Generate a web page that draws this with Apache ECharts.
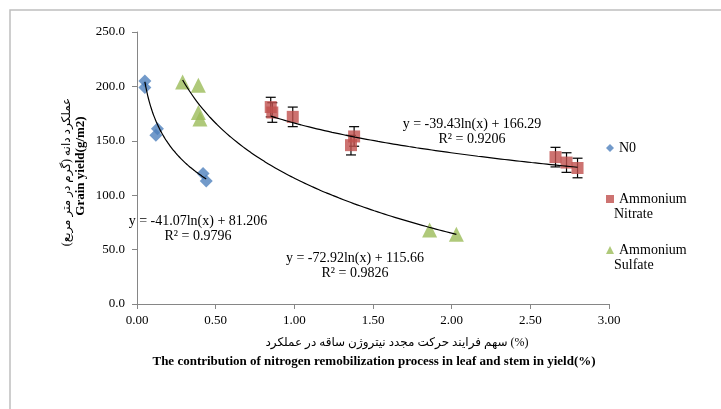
<!DOCTYPE html>
<html>
<head>
<meta charset="utf-8">
<script src="https://cdn.jsdelivr.net/npm/echarts@6/dist/echarts.min.js"></script>
<style>
  html, body { margin: 0; padding: 0; background: #fff; }
  #chart { width: 721px; height: 409px; }
</style>
</head>
<body>
<div id="chart"></div>
<script>
// values
const n0X = [0.05, 0.05, 0.13, 0.12, 0.42, 0.44];
const n0Y = [205, 199, 161, 155, 120, 113];
const nitrateX = [0.85, 0.86, 0.99, 1.38, 1.36, 2.66, 2.73, 2.80];
const nitrateY = [181, 176, 172, 154, 146, 135, 130, 125];
const nitrateErr = [9, 9, 9, 9, 9, 9, 9, 9];
const sulfateX = [0.29, 0.39, 0.39, 0.40, 1.86, 2.03];
const sulfateY = [204, 201, 176, 170, 68, 64];

// excel log trendlines as printed on the chart: y = a*ln(x) + b
const trendA = [-41.07, -39.431, -72.92];
const trendB = [81.206, 166.29, 115.66];
const trendText = [
  ['y = -41.07ln(x) + 81.206', 'R² = 0.9796'],
  ['y = -39.43ln(x) + 166.29', 'R² = 0.9206'],
  ['y = -72.92ln(x) + 115.66', 'R² = 0.9826']
];

const seriesNames = ['N0', 'Ammonium\nNitrate', 'Ammonium\nSulfate'];
const xTicks = ['0.00', '0.50', '1.00', '1.50', '2.00', '2.50', '3.00'];
const yTicks = ['0.0', '50.0', '100.0', '150.0', '200.0', '250.0'];

const serif = '"Liberation Serif", "DejaVu Serif", "DejaVu Sans", serif';

function pairs(xs, ys) {
  let out = [];
  for (let i = 0; i < xs.length; i++) out.push([xs[i], ys[i]]);
  return out;
}

function trendLine(k, xs) {   // curve only over the data range, like excel
  let lo = Math.min(...xs), hi = Math.max(...xs);
  let pts = [];
  for (let i = 0; i <= 40; i++) {
    let x = lo + (hi - lo) * i / 40;
    pts.push([x, trendA[k] * Math.log(x) + trendB[k]]);
  }
  return pts;
}

const chart = echarts.init(document.getElementById('chart'));

function eqText(lines, cx, cy) {
  return lines.map((t, i) => ({
    type: 'text', x: cx, y: cy + i * 15, z: 50,
    style: { text: t, font: '14px ' + serif, fill: '#000', align: 'center', verticalAlign: 'middle' }
  }));
}

function legendSecondLine(name, y) {
  return {
    type: 'text', x: 614, y: y,
    style: { text: name.split('\n')[1], font: '14px ' + serif, fill: '#000', align: 'left', verticalAlign: 'middle' }
  };
}

const lineStyleTrend = { color: '#000', width: 1.2 };

chart.setOption({
  animation: false,
  grid: { left: 137, right: 112, top: 32, bottom: 105 },
  legend: {
    orient: 'vertical',
    left: 601,
    top: 135,
    itemWidth: 8,
    itemHeight: 8,
    itemGap: 35,
    textStyle: { fontFamily: serif, fontSize: 14, color: '#000', lineHeight: 16 },
    formatter: name => name.split('\n')[0],
    data: [
      { name: seriesNames[0], icon: 'diamond' },
      { name: seriesNames[1], icon: 'rect' },
      { name: seriesNames[2], icon: 'triangle' }
    ]
  },
  xAxis: {
    type: 'value', min: 0, max: 3, interval: 0.5,
    axisLine: { lineStyle: { color: '#868686' } },
    axisTick: { show: true, length: 5, lineStyle: { color: '#868686' } },
    splitLine: { show: false },
    axisLabel: {
      fontFamily: serif, fontSize: 13, color: '#000', margin: 10,
      formatter: v => xTicks[Math.round(v / 0.5)]
    }
  },
  yAxis: {
    type: 'value', min: 0, max: 250, interval: 50,
    axisLine: { show: true, lineStyle: { color: '#868686' } },
    axisTick: { show: true, length: 5, lineStyle: { color: '#868686' } },
    splitLine: { show: false },
    axisLabel: {
      fontFamily: serif, fontSize: 13, color: '#000', margin: 12,
      formatter: v => yTicks[Math.round(v / 50)]
    }
  },
  series: [
    {
      name: seriesNames[0], type: 'scatter', symbol: 'diamond', symbolSize: 13,
      itemStyle: { color: '#4F81BD' }, data: pairs(n0X, n0Y), z: 3
    },
    {
      name: seriesNames[1], type: 'scatter', symbol: 'rect', symbolSize: 12,
      itemStyle: { color: '#C0504D' }, data: pairs(nitrateX, nitrateY), z: 3
    },
    {
      name: seriesNames[2], type: 'scatter', symbol: 'triangle', symbolSize: 15,
      itemStyle: { color: '#9BBB59' }, data: pairs(sulfateX, sulfateY), z: 3
    },
    {
      // error bars of the nitrate points
      type: 'custom', z: 2,
      data: nitrateX.map((x, i) => [x, nitrateY[i] - nitrateErr[i], nitrateY[i] + nitrateErr[i]]),
      renderItem: function (params, api) {
        let lo = api.coord([api.value(0), api.value(1)]);
        let hi = api.coord([api.value(0), api.value(2)]);
        let w = 5;
        let st = { stroke: '#000', lineWidth: 1.2 };
        return {
          type: 'group',
          children: [
            { type: 'line', shape: { x1: lo[0], y1: lo[1], x2: hi[0], y2: hi[1] }, style: st },
            { type: 'line', shape: { x1: lo[0] - w, y1: lo[1], x2: lo[0] + w, y2: lo[1] }, style: st },
            { type: 'line', shape: { x1: hi[0] - w, y1: hi[1], x2: hi[0] + w, y2: hi[1] }, style: st }
          ]
        };
      }
    },
    { type: 'line', showSymbol: false, smooth: true, z: 5, lineStyle: lineStyleTrend, data: trendLine(0, n0X) },
    { type: 'line', showSymbol: false, smooth: true, z: 5, lineStyle: lineStyleTrend, data: trendLine(1, nitrateX) },
    { type: 'line', showSymbol: false, smooth: true, z: 5, lineStyle: lineStyleTrend, data: trendLine(2, sulfateX) }
  ],
  graphic: [
    {
      type: 'rect', z: 0, silent: true,
      shape: { x: 10, y: 10, width: 760, height: 460 },
      style: { fill: 'none', stroke: '#bfbfbf', lineWidth: 1.5 }
    },
    legendSecondLine(seriesNames[1], 214),
    legendSecondLine(seriesNames[2], 265),
    {
      type: 'text', x: 67, y: 172, rotation: Math.PI / 2,
      style: { text: 'عملکرد دانه (گرم در متر مربع)', font: '12px ' + serif, fill: '#000', align: 'center', verticalAlign: 'middle' }
    },
    {
      type: 'text', x: 81, y: 166, rotation: Math.PI / 2,
      style: { text: 'Grain yield(g/m2)', font: 'bold 13px ' + serif, fill: '#000', align: 'center', verticalAlign: 'middle' }
    },
    {
      type: 'text', x: 397, y: 343,
      style: { text: 'سهم فرایند حرکت مجدد نیتروژن ساقه در عملکرد (%)', font: '12px ' + serif, fill: '#000', align: 'center', verticalAlign: 'middle' }
    },
    {
      type: 'text', x: 374, y: 362,
      style: { text: 'The contribution of nitrogen remobilization process in leaf and stem in yield(%)', font: 'bold 13px ' + serif, fill: '#000', align: 'center', verticalAlign: 'middle' }
    },
    ...eqText(trendText[0], 198, 221),
    ...eqText(trendText[1], 472, 124),
    ...eqText(trendText[2], 355, 258)
  ]
});
</script>
</body>
</html>
